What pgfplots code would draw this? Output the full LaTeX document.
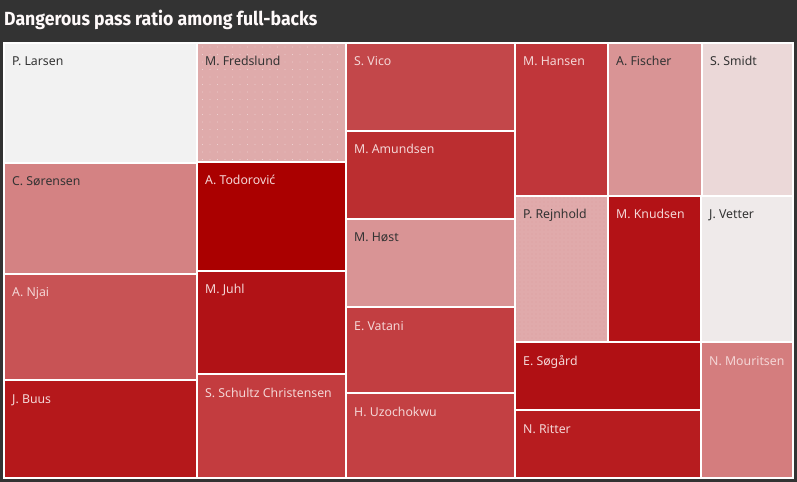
\documentclass[border=0pt]{standalone}
\usepackage{fontspec}
\setmainfont{Noto Sans}
\newfontfamily\titlefont[FakeStretch=0.93]{Fira Sans}
\usepackage{pgfplots}
\pgfplotsset{compat=1.18}
\usetikzlibrary{patterns.meta}
\definecolor{bg}{HTML}{333333}
\definecolor{dk}{HTML}{333333}
\definecolor{lt}{HTML}{F4D6D6}
\definecolor{cLarsen}{HTML}{F2F2F2}
\definecolor{cSorensen}{HTML}{D48283}
\definecolor{cNjai}{HTML}{C85355}
\definecolor{cBuus}{HTML}{B5181B}
\definecolor{cFredslund}{HTML}{DFABAB}
\definecolor{cTodorovic}{HTML}{AA0000}
\definecolor{cJuhl}{HTML}{B11216}
\definecolor{cSchultz}{HTML}{C33C3F}
\definecolor{cVico}{HTML}{C3474A}
\definecolor{cAmundsen}{HTML}{BB2E30}
\definecolor{cHost}{HTML}{D99495}
\definecolor{cVatani}{HTML}{C23E41}
\definecolor{cUzochokwu}{HTML}{C34043}
\definecolor{cHansen}{HTML}{C0363A}
\definecolor{cFischer}{HTML}{D99495}
\definecolor{cSmidt}{HTML}{EBD8D8}
\definecolor{cRejnhold}{HTML}{E0AAAB}
\definecolor{cKnudsen}{HTML}{B31216}
\definecolor{cVetter}{HTML}{EFEAEA}
\definecolor{cSogard}{HTML}{B01014}
\definecolor{cRitter}{HTML}{B71C1F}
\definecolor{cMouritsen}{HTML}{D47D7E}
\begin{document}
\begin{tikzpicture}
\begin{axis}[
  x=1bp, y=1bp, y dir=reverse,
  xmin=0, xmax=797, ymin=0, ymax=482,
  hide axis, scale only axis,
  clip=false,
  every axis plot/.append style={draw=white, line width=1.1bp},
  nodes={font=\fontsize{12.3bp}{14bp}\selectfont, anchor=base west, inner sep=0pt},
]
% background
\addplot[fill=bg, draw=none] coordinates {(0,0) (797,0) (797,482) (0,482)} --cycle;
\addplot[fill=white, draw=none] coordinates {(3.5,42.5) (793.5,42.5) (793.5,478.5) (3.5,478.5)} --cycle;
% column 1
\addplot[fill=cLarsen]    coordinates {(4,43) (197,43) (197,163) (4,163)} --cycle;
\addplot[fill=cSorensen]  coordinates {(4,163) (197,163) (197,274) (4,274)} --cycle;
\addplot[fill=cNjai]      coordinates {(4,274) (197,274) (197,380) (4,380)} --cycle;
\addplot[fill=cBuus]      coordinates {(4,380) (197,380) (197,478) (4,478)} --cycle;
% column 2
\addplot[fill=cFredslund] coordinates {(197,43) (346,43) (346,162) (197,162)} --cycle;
\addplot[draw=none, pattern={Dots[distance=7.5bp, radius=0.45bp]}, pattern color=white!70!cFredslund] coordinates {(199,45) (344,45) (344,160) (199,160)} --cycle;
\addplot[fill=cTodorovic] coordinates {(197,162) (346,162) (346,271) (197,271)} --cycle;
\addplot[fill=cJuhl]      coordinates {(197,271) (346,271) (346,374) (197,374)} --cycle;
\addplot[fill=cSchultz]   coordinates {(197,374) (346,374) (346,478) (197,478)} --cycle;
% column 3
\addplot[fill=cVico]      coordinates {(346,43) (515,43) (515,131) (346,131)} --cycle;
\addplot[fill=cAmundsen]  coordinates {(346,131) (515,131) (515,219) (346,219)} --cycle;
\addplot[fill=cHost]      coordinates {(346,219) (515,219) (515,307) (346,307)} --cycle;
\addplot[fill=cVatani]    coordinates {(346,307) (515,307) (515,393) (346,393)} --cycle;
\addplot[fill=cUzochokwu] coordinates {(346,393) (515,393) (515,478) (346,478)} --cycle;
% right block
\addplot[fill=cHansen]    coordinates {(515,43) (608,43) (608,196) (515,196)} --cycle;
\addplot[fill=cFischer]   coordinates {(608,43) (702,43) (702,196) (608,196)} --cycle;
\addplot[fill=cSmidt]     coordinates {(702,43) (793,43) (793,196) (702,196)} --cycle;
\addplot[fill=cRejnhold]  coordinates {(515,196) (608,196) (608,342) (515,342)} --cycle;
\addplot[draw=none, pattern={Dots[distance=4bp, radius=0.45bp]}, pattern color=cRejnhold!70!cHansen] coordinates {(516,197) (607,197) (607,341) (516,341)} --cycle;
\addplot[fill=cKnudsen]   coordinates {(608,196) (701,196) (701,342) (608,342)} --cycle;
\addplot[fill=cVetter]    coordinates {(701,196) (793,196) (793,342) (701,342)} --cycle;
\addplot[fill=cSogard]    coordinates {(515,342) (701,342) (701,410) (515,410)} --cycle;
\addplot[fill=cRitter]    coordinates {(515,410) (701,410) (701,478) (515,478)} --cycle;
\addplot[fill=cMouritsen] coordinates {(701,342) (793,342) (793,478) (701,478)} --cycle;
% labels
\node[text=dk] at (axis cs:12,66) {P. Larsen};
\node[text=dk] at (axis cs:12,186) {C. Sørensen};
\node[text=lt] at (axis cs:12,297) {A. Njai};
\node[text=lt] at (axis cs:12,403) {J. Buus};
\node[text=dk] at (axis cs:205,66) {M. Fredslund};
\node[text=lt] at (axis cs:205,185) {A. Todorović};
\node[text=lt] at (axis cs:205,294) {M. Juhl};
\node[text=lt] at (axis cs:205,397) {S. Schultz Christensen};
\node[text=lt] at (axis cs:354,66) {S. Vico};
\node[text=lt] at (axis cs:354,154) {M. Amundsen};
\node[text=dk] at (axis cs:354,242) {M. Høst};
\node[text=lt] at (axis cs:354,330) {E. Vatani};
\node[text=lt] at (axis cs:354,416) {H. Uzochokwu};
\node[text=lt] at (axis cs:523,66) {M. Hansen};
\node[text=dk] at (axis cs:616,66) {A. Fischer};
\node[text=dk] at (axis cs:710,66) {S. Smidt};
\node[text=dk] at (axis cs:523,219) {P. Rejnhold};
\node[text=lt] at (axis cs:616,219) {M. Knudsen};
\node[text=dk] at (axis cs:709,219) {J. Vetter};
\node[text=lt] at (axis cs:523,365) {E. Søgård};
\node[text=lt] at (axis cs:523,433) {N. Ritter};
\node[text=lt] at (axis cs:709,365) {N. Mouritsen};
% title
\node[text=white!92!pink, font=\titlefont\bfseries\fontsize{19bp}{22bp}\selectfont] at (axis cs:4,26) {Dangerous pass ratio among full-backs};
\end{axis}
\end{tikzpicture}
\end{document}
